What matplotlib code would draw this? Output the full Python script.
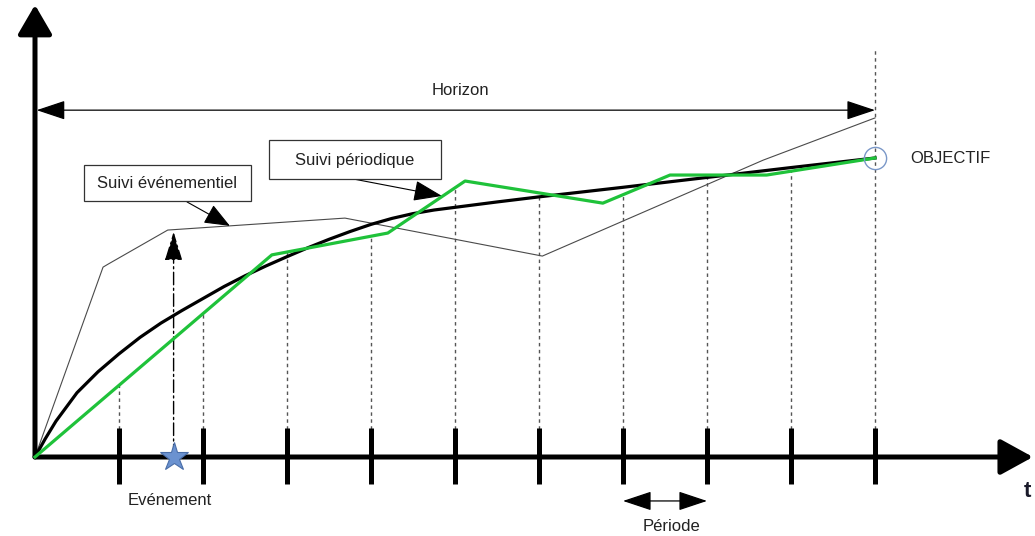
import matplotlib.pyplot as plt
from matplotlib.patches import Rectangle
import numpy as np

plt.rcParams['font.family'] = ['Liberation Sans', 'DejaVu Sans']

# time in periods, progress in % of objective
curve_t = [0, 0.12, 0.25, 0.5, 0.75, 1.0, 1.25, 1.5, 1.75, 2.0, 2.25, 2.5, 2.75, 3.0, 3.25,
           3.5, 3.75, 4.0, 4.25, 4.5, 4.75, 5.0, 5.5, 6.0, 7.0, 8.0, 9.0, 10.0]
curve_v = [0, 6.0, 12.0, 21.5, 28.5, 34.5, 40.0, 44.8, 49.0, 53.0, 57.0, 60.6, 63.9, 67.0, 70.0,
           72.8, 75.4, 77.8, 79.8, 81.4, 82.6, 83.5, 85.3, 87.0, 90.2, 93.5, 96.8, 100]

periodic_t = [0, 2.82, 4.2, 5.12, 6.76, 7.56, 8.71, 10.0]
periodic_v = [0, 67.6, 74.9, 92.3, 84.9, 94.3, 94.3, 100]

event_t = [0, 0.81, 0.87, 1.58, 3.69, 6.04, 8.67, 10.0]
event_v = [0, 63.5, 64.5, 75.9, 79.9, 67.2, 99.3, 113.4]

periods = np.arange(1, 11)
event_time = 1.65
event_reaction = 75.3
horizon_level = 116

fig = plt.figure(figsize=(10.35, 5.36), dpi=100)
ax = fig.add_axes([0, 0, 1, 1])
ax.set_xlim(-35 / 84, 1000 / 84)
ax.set_ylim(-79 / 2.99, 457 / 2.99)
ax.axis('off')

txt = '#222222'

# dotted verticals from each period tick up to the periodic line
for p in periods[:-1]:
    top = np.interp(p, periodic_t, periodic_v)
    ax.plot([p, p], [0, top], color='#555555', lw=1, ls=(0, (2.5, 2.5)), zorder=1)
ax.plot([10, 10], [0, 136], color='#555555', lw=1, ls=(0, (2.5, 2.5)), zorder=1)

ax.plot(event_t, event_v, color='#4a4a4a', lw=0.8, zorder=2)
ax.plot(curve_t, curve_v, color='black', lw=2.3, solid_joinstyle='round', zorder=3)
ax.plot(periodic_t, periodic_v, color='#1fc23a', lw=2.3, solid_joinstyle='round', zorder=4)

# axes with arrows
ax.annotate('', xy=(0, 151.2), xytext=(0, 0), annotation_clip=False,
            arrowprops=dict(arrowstyle='-|>,head_length=18,head_width=10.5', mutation_scale=1,
                            lw=3.6, color='black', shrinkA=0, shrinkB=0))
ax.annotate('', xy=(11.88, 0), xytext=(0, 0), annotation_clip=False,
            arrowprops=dict(arrowstyle='-|>,head_length=20,head_width=11', mutation_scale=1,
                            lw=3.6, color='black', shrinkA=0, shrinkB=0))
for p in periods:
    ax.plot([p, p], [-9.0, 9.7], color='black', lw=3.6, solid_capstyle='butt', zorder=5)

# horizon
ax.annotate('', xy=(0.02, horizon_level), xytext=(10, horizon_level),
            arrowprops=dict(arrowstyle='<|-|>,head_length=18,head_width=6', mutation_scale=1,
                            lw=0.9, color='black', shrinkA=0, shrinkB=0))
ax.text(5.06, 122.7, 'Horizon', ha='center', va='center', fontsize=12, color=txt)

# period
ax.annotate('', xy=(7, -14.7), xytext=(8, -14.7),
            arrowprops=dict(arrowstyle='<|-|>,head_length=18,head_width=6', mutation_scale=1,
                            lw=0.9, color='black', shrinkA=0, shrinkB=0))
ax.text(7.58, -23.4, 'Période', ha='center', va='center', fontsize=12, color=txt)

# event
ax.annotate('', xy=(event_time, event_reaction), xytext=(event_time, 0),
            arrowprops=dict(arrowstyle='-|>,head_length=18,head_width=5.5', mutation_scale=1,
                            lw=1, color='black', shrinkA=0, shrinkB=0, ls=(0, (9, 2.5, 1.5, 2.5))))
ax.plot([event_time], [0], marker='*', ms=21, color='#6b92d0', mec='#4a6ea8', mew=0.8, zorder=6)
ax.text(1.607, -14.4, 'Evénement', ha='center', va='center', fontsize=12, color=txt)

# objective
ax.plot([10], [100], marker='o', ms=16, mfc='none', mec='#7b98c8', mew=1, zorder=6)
ax.text(10.417, 99.7, 'OBJECTIF', ha='left', va='center', fontsize=12, color=txt)
ax.text(11.81, -11.4, 't', ha='center', va='center', fontsize=16, fontweight='bold', color='#1a1a2a')

# callout boxes
ax.add_patch(Rectangle((0.583, 85.6), 1.988, 12.04, fc='white', ec='#333333', lw=0.9, zorder=7))
ax.text(1.571, 91.6, 'Suivi événementiel', ha='center', va='center', fontsize=12, color=txt, zorder=8)
ax.annotate('', xy=(2.32, 77.3), xytext=(1.81, 85.3),
            arrowprops=dict(arrowstyle='-|>,head_length=16,head_width=6.5', mutation_scale=1,
                            lw=0.8, color='black', shrinkA=0, shrinkB=0))

ax.add_patch(Rectangle((2.786, 93.0), 2.048, 13.0, fc='white', ec='#333333', lw=0.9, zorder=7))
ax.text(3.80, 99.3, 'Suivi périodique', ha='center', va='center', fontsize=12, color=txt, zorder=8)
ax.annotate('', xy=(4.845, 87.3), xytext=(3.786, 93.0),
            arrowprops=dict(arrowstyle='-|>,head_length=18,head_width=6.5', mutation_scale=1,
                            lw=0.8, color='black', shrinkA=0, shrinkB=0))

fig.savefig('out.png', dpi=100)
